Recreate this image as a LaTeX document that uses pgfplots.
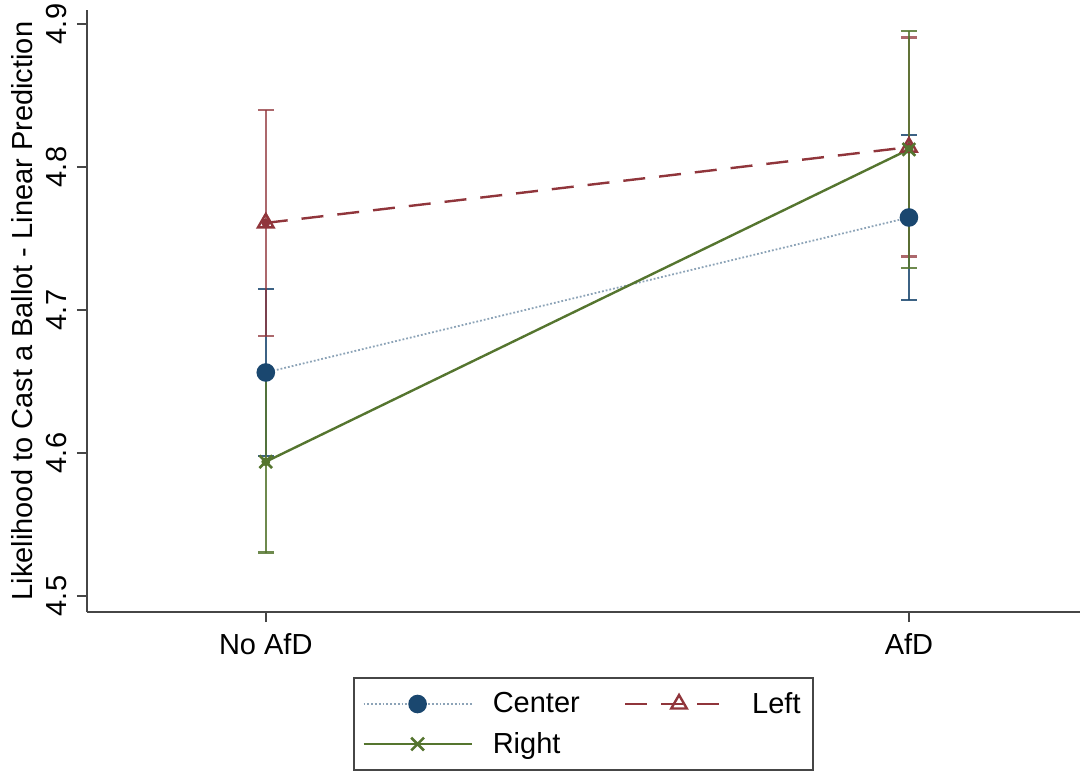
\documentclass[border=0pt]{standalone}
\usepackage{fontspec}
\setmainfont{Liberation Sans}
\usepackage{pgfplots}
\pgfplotsset{compat=1.18}
\definecolor{cnavy}{RGB}{26,71,111}
\definecolor{cmaroon}{RGB}{144,53,59}
\definecolor{cgreen}{RGB}{85,117,47}
\definecolor{axgray}{RGB}{70,70,70}
\newcommand{\fs}{\fontsize{14.5pt}{17pt}\selectfont}
\begin{document}
\begin{tikzpicture}
\begin{axis}[
  scale only axis,
  width=496.5pt, height=301pt,
  xmin=-0.278, xmax=1.266,
  ymin=4.4888, ymax=4.9098,
  axis x line*=bottom, axis y line*=left,
  axis line style={axgray, line width=0.8pt, -},
  xtick={0,1}, xticklabels={No AfD, AfD},
  ytick={4.5,4.6,4.7,4.8,4.9},
  yticklabels={4.5,4.6,4.7,4.8,4.9},
  tick align=outside,
  major tick length=5pt,
  tick style={axgray, line width=0.8pt},
  ticklabel style={font=\fs},
  yticklabel style={rotate=90, anchor=south, yshift=1.5pt},
  xticklabel style={yshift=-2pt},
  ylabel={Likelihood to Cast a Ballot - Linear Prediction},
  ylabel style={font=\fs, at={(ticklabel cs:0.5)}, anchor=south, yshift=0pt},
  legend columns=2,
  legend style={at={(0.5,-0.108)}, anchor=north, draw=axgray, line width=1pt,
    font=\fs, inner xsep=4pt, inner ysep=5pt, row sep=4pt,
    /tikz/column 1/.style={column sep=8pt},
    /tikz/column 2/.style={column sep=20pt},
    /tikz/column 3/.style={column sep=7pt}},
  legend cell align=left,
  legend image code/.code={\draw[mark repeat=2,mark phase=2,#1] plot coordinates {(0pt,0pt)(27pt,0pt)(54pt,0pt)};},
  clip=false,
]
% error bars
\addplot[forget plot, cnavy, only marks, mark=none,
  error bars/.cd, y dir=both, y explicit,
  error bar style={line width=1.2pt, cnavy, opacity=0.85},
  error mark options={rotate=90, mark size=4pt, line width=1.2pt, cnavy, opacity=0.85}]
  coordinates {(0,4.6563) += (0,0.0584) -= (0,0.0584) (1,4.7647) += (0,0.0577) -= (0,0.0577)};
\addplot[forget plot, cmaroon, only marks, mark=none,
  error bars/.cd, y dir=both, y explicit,
  error bar style={line width=1.2pt, cmaroon, opacity=0.75},
  error mark options={rotate=90, mark size=4pt, line width=1.2pt, cmaroon, opacity=0.75}]
  coordinates {(0,4.7609) += (0,0.0790) -= (0,0.0790) (1,4.8139) += (0,0.0766) -= (0,0.0766)};
\addplot[forget plot, cgreen, only marks, mark=none,
  error bars/.cd, y dir=both, y explicit,
  error bar style={line width=1.2pt, cgreen, opacity=0.85},
  error mark options={rotate=90, mark size=4pt, line width=1.2pt, cgreen, opacity=0.85}]
  coordinates {(0,4.5939) += (0,0.0636) -= (0,0.0636) (1,4.8123) += (0,0.0829) -= (0,0.0829)};
% lines
\addplot[color=cnavy!50, line width=0.9pt, densely dotted, mark=*, mark size=4.2pt,
  mark options={solid, fill=cnavy, draw=cnavy}]
  coordinates {(0,4.6563) (1,4.7647)};
\addlegendentry{Center}
\addplot[color=cmaroon, line width=1.2pt, dash pattern=on 11pt off 7pt, mark=triangle, mark size=4.5pt,
  mark options={solid, line width=1.2pt}]
  coordinates {(0,4.7609) (1,4.8139)};
\addlegendentry{Left}
\addplot[color=cgreen, line width=1.2pt, mark=x, mark size=4.5pt, mark options={solid, line width=1.3pt}]
  coordinates {(0,4.5939) (1,4.8123)};
\addlegendentry{Right}
\end{axis}
\pgfresetboundingbox
\path (current axis.south west) ++(-43.5pt,306pt) rectangle ++(541pt,-385.5pt);
\end{tikzpicture}
\end{document}
